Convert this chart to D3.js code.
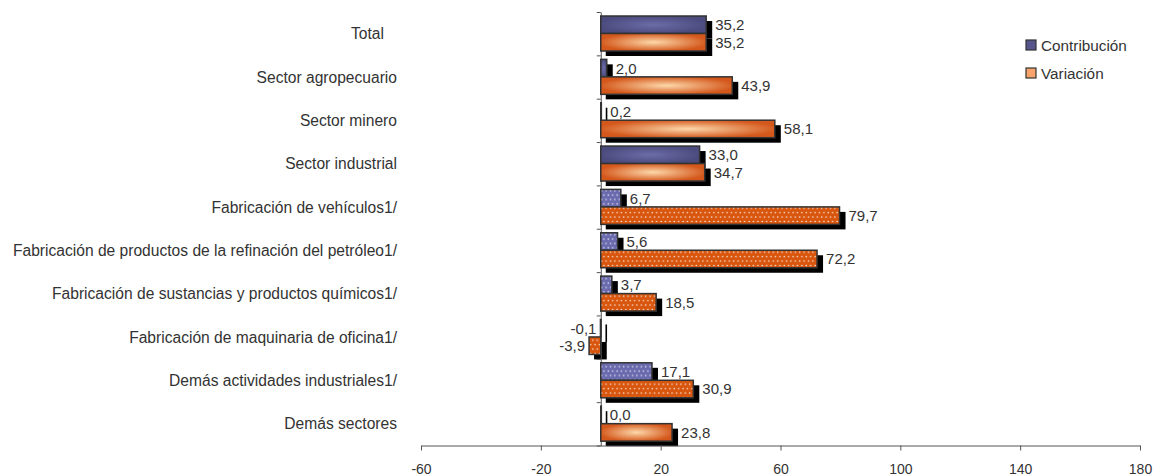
<!DOCTYPE html>
<html>
<head>
<meta charset="utf-8">
<script src="https://cdn.jsdelivr.net/npm/d3@7"></script>
<style>
  body { margin: 0; background: #fff; }
  text { font-family: "Liberation Sans", Arial, sans-serif; fill: #333; }
</style>
</head>
<body>
<svg id="chart"></svg>
<script>
const width = 1153;
const height = 475;

const categories = [
    'Total',
    'Sector agropecuario',
    'Sector minero',
    'Sector industrial',
    'Fabricación de vehículos1/',
    'Fabricación de productos de la refinación del petróleo1/',
    'Fabricación de sustancias y productos químicos1/',
    'Fabricación de maquinaria de oficina1/',
    'Demás actividades industriales1/',
    'Demás sectores'
];
const series = ['Contribución', 'Variación'];
const contribucion = [35.2, 2.0, 0.2, 33.0, 6.7, 5.6, 3.7, -0.1, 17.1, 0.0];
const variacion = [35.2, 43.9, 58.1, 34.7, 79.7, 72.2, 18.5, -3.9, 30.9, 23.8];
const xTicks = [-60, -20, 20, 60, 100, 140, 180];

const svg = d3.select('#chart')
    .attr('width', width)
    .attr('height', height);

const x = d3.scaleLinear().domain([-60, 180]).range([421, 1140]);
const y = d3.scaleBand().domain(categories).range([12, 445.5]);
const ySeries = d3.scaleBand().domain(series).range([4, 39]);

const rows = [];
categories.forEach((c, i) => {
    rows.push({cat: c, s: series[0], v: contribucion[i]});
    rows.push({cat: c, s: series[1], v: variacion[i]});
});

// fills
const defs = svg.append('defs');
const palette = {
    'Contribución': {edge: '#4b4b7e', mid: '#6c6ca8', dotBase: '#6a6aae'},
    'Variación': {edge: '#d4581c', mid: '#fdd8aa', dotBase: '#d8560e'}
};
series.forEach((s, k) => {
    const g = defs.append('radialGradient')
        .attr('id', 'grad' + k)
        .attr('cx', '50%').attr('cy', '50%').attr('r', '52%');
    g.append('stop').attr('offset', '0%').attr('stop-color', palette[s].mid);
    g.append('stop').attr('offset', '100%').attr('stop-color', palette[s].edge);

    const p = defs.append('pattern')
        .attr('id', 'dots' + k)
        .attr('patternUnits', 'userSpaceOnUse')
        .attr('width', 4.4).attr('height', 8.8);
    p.append('rect').attr('width', 4.4).attr('height', 8.8).attr('fill', palette[s].dotBase);
    p.append('circle').attr('cx', 1.1).attr('cy', 1.5).attr('r', 0.8).attr('fill', '#fff').attr('opacity', 0.85);
    p.append('circle').attr('cx', 3.3).attr('cy', 5.9).attr('r', 0.8).attr('fill', '#fff').attr('opacity', 0.85);
});

function fillFor(d) {
    const k = series.indexOf(d.s);
    return d.cat.endsWith('1/') ? `url(#dots${k})` : `url(#grad${k})`;
}

const barX = d => x(Math.min(0, d.v));
const barW = d => Math.max(0.6, Math.abs(x(d.v) - x(0)));
const barY = d => y(d.cat) + ySeries(d.s);

// shadows
svg.append('g').selectAll('rect')
    .data(rows)
    .enter()
    .append('rect')
    .attr('x', d => barX(d) + 5)
    .attr('y', d => barY(d) + 5)
    .attr('width', d => barW(d) + 1)
    .attr('height', ySeries.bandwidth())
    .attr('fill', '#000');

// axes
const xAxis = svg.append('g')
    .attr('transform', `translate(0, ${445.5})`)
    .call(d3.axisBottom(x).tickValues(xTicks).tickSize(5).tickSizeOuter(0));
xAxis.selectAll('path, line').attr('stroke', '#555');
xAxis.selectAll('text')
    .attr('y', 8)
    .attr('dy', '20px')
    .style('font-size', '14px')
    .style('font-family', '"Liberation Sans", Arial, sans-serif')
    .attr('fill', '#333')
    .text(d => d < 0 ? '-' + Math.abs(d) : d);

const yEdge = d3.scaleLinear().domain([0, categories.length]).range(y.range());
const yAxis = svg.append('g')
    .attr('transform', `translate(${x(0)}, 0)`)
    .call(d3.axisLeft(yEdge).ticks(categories.length).tickSize(4).tickSizeOuter(0).tickFormat(''));
yAxis.selectAll('path, line').attr('stroke', '#555');

// bars
svg.append('g').selectAll('rect')
    .data(rows)
    .enter()
    .append('rect')
    .attr('x', barX)
    .attr('y', barY)
    .attr('width', barW)
    .attr('height', ySeries.bandwidth())
    .attr('fill', fillFor)
    .attr('stroke', '#333')
    .attr('stroke-width', 1.5);

// value labels
const fmt = v => d3.format('.1f')(v).replace('.', ',').replace('−', '-');
svg.append('g').selectAll('text')
    .data(rows)
    .enter()
    .append('text')
    .attr('x', d => d.v < 0 ? x(d.v) - 4 : x(d.v) + 9)
    .attr('y', d => barY(d) + ySeries.bandwidth() / 2)
    .attr('dy', '0.36em')
    .attr('text-anchor', d => d.v < 0 ? 'end' : 'start')
    .style('font-size', '15px')
    .text(d => fmt(d.v));

// category labels
svg.append('g').selectAll('text')
    .data(categories)
    .enter()
    .append('text')
    .attr('x', d => d === 'Total' ? 384 : 397)
    .attr('y', d => y(d) + y.bandwidth() / 2)
    .attr('dy', '0.36em')
    .attr('text-anchor', 'end')
    .style('font-size', '15.6px')
    .text(d => d);

// legend
const legendFill = {'Contribución': '#55558c', 'Variación': '#f6a36c'};
const legend = svg.append('g')
    .selectAll('g')
    .data(series)
    .enter()
    .append('g')
    .attr('transform', (d, i) => `translate(1026, ${40 + i * 28})`);
legend.append('rect')
    .attr('width', 10).attr('height', 10)
    .attr('fill', d => legendFill[d])
    .attr('stroke', '#333').attr('stroke-width', 1.2);
legend.append('text')
    .attr('x', 15).attr('y', 5).attr('dy', '0.36em')
    .style('font-size', '15.3px')
    .text(d => d);
</script>
</body>
</html>
